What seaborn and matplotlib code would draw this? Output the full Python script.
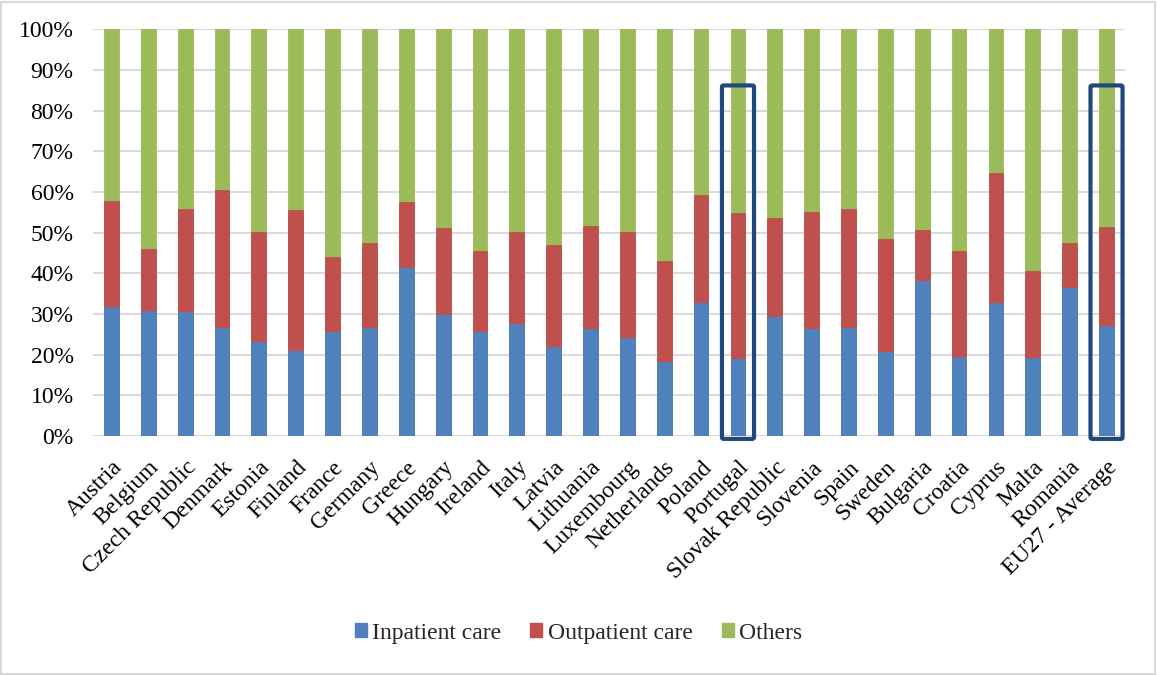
import matplotlib
matplotlib.use("Agg")
import matplotlib.pyplot as plt
from matplotlib.patches import FancyBboxPatch, Rectangle, Patch
from matplotlib.ticker import MultipleLocator, FuncFormatter
import numpy as np
import pandas as pd
import seaborn as sns

# Shares of health expenditure by function (%)
countries = [
    "Austria", "Belgium", "Czech Republic", "Denmark", "Estonia", "Finland",
    "France", "Germany", "Greece", "Hungary", "Ireland", "Italy", "Latvia",
    "Lithuania", "Luxembourg", "Netherlands", "Poland", "Portugal",
    "Slovak Republic", "Slovenia", "Spain", "Sweden", "Bulgaria", "Croatia",
    "Cyprus", "Malta", "Romania", "EU27 - Average",
]
inpatient = [31.8, 30.7, 30.5, 26.6, 23.1, 20.8, 25.7, 26.6, 41.2, 29.7,
             25.5, 27.5, 22.0, 26.4, 24.0, 18.3, 32.6, 18.9, 29.2, 26.2,
             26.6, 20.6, 38.2, 19.4, 32.6, 19.1, 36.3, 27.0]
outpatient = [26.1, 15.4, 25.3, 33.9, 27.1, 34.7, 18.3, 20.9, 16.4, 21.4,
              19.9, 22.7, 25.0, 25.3, 26.2, 24.8, 26.7, 36.0, 24.5, 28.9,
              29.1, 27.9, 12.5, 26.0, 32.0, 21.5, 11.2, 24.4]
others = [round(100 - a - b, 1) for a, b in zip(inpatient, outpatient)]
highlighted = ["Portugal", "EU27 - Average"]

series_names = ["Inpatient care", "Outpatient care", "Others"]
colors = ["#4F81BD", "#C0504D", "#9BBB59"]

df = pd.DataFrame({
    "country": countries,
    "inpatient": inpatient,
    "outpatient": outpatient,
    "others": others,
})
df["top_inpatient"] = df["inpatient"]
df["top_outpatient"] = df["inpatient"] + df["outpatient"]
df["top_others"] = df["top_outpatient"] + df["others"]

sns.set_theme(style="white")
plt.rcParams["font.family"] = ["Liberation Serif", "DejaVu Serif"]
FS = 17

fig = plt.figure(figsize=(11.57, 6.75), dpi=100)
ax = fig.add_axes([0.0804, 0.354, 0.8919, 0.6026])

# Stacked bars: draw cumulative totals from the top layer down
for col, color in zip(["top_others", "top_outpatient", "top_inpatient"],
                      colors[::-1]):
    sns.barplot(data=df, x="country", y=col, color=color, width=0.4,
                saturation=1, ax=ax, zorder=3, linewidth=0.6,
                edgecolor=color)

ax.set_ylim(0, 100)
ax.set_xlim(-0.5, len(countries) - 0.5)
ax.yaxis.set_major_locator(MultipleLocator(10))
ax.yaxis.set_major_formatter(FuncFormatter(lambda v, _: f"{v:.0f}%"))
ax.set_xlabel("")
ax.set_ylabel("")
ax.grid(axis="y", color="#d9d9d9", linewidth=1.4, zorder=0)
ax.grid(axis="x", visible=False)
for s in ax.spines.values():
    s.set_visible(False)
ax.axhline(0, color="#d9d9d9", linewidth=1.4, zorder=1)

ax.tick_params(axis="y", length=0, pad=14, labelsize=FS, colors="black")
ax.tick_params(axis="x", length=0, pad=15, labelsize=FS, colors="black")
for lab in ax.get_xticklabels():
    lab.set_rotation(45)
    lab.set_ha("right")
    lab.set_va("top")
    lab.set_rotation_mode("anchor")

# Outline the highlighted columns
for name in highlighted:
    i = countries.index(name)
    box = FancyBboxPatch((i - 0.435, -0.7), 0.87, 86.9,
                         boxstyle="round,pad=0,rounding_size=0.05",
                         facecolor="none", edgecolor="#1F497D",
                         linewidth=3.0, clip_on=False, zorder=5,
                         mutation_aspect=8)
    ax.add_patch(box)

handles = [Patch(facecolor=c, edgecolor=c) for c in colors]
fig.legend(handles, series_names, loc="center", bbox_to_anchor=(0.5, 0.062),
           ncol=3, frameon=False, fontsize=FS, handlelength=0.51,
           handleheight=0.51, handletextpad=0.22, columnspacing=1.23)

fig.patches.append(Rectangle((0.001, 0.002), 0.997, 0.995,
                             transform=fig.transFigure, facecolor="none",
                             edgecolor="#d9d9d9", linewidth=1.5))

fig.savefig("out.png", dpi=100)
